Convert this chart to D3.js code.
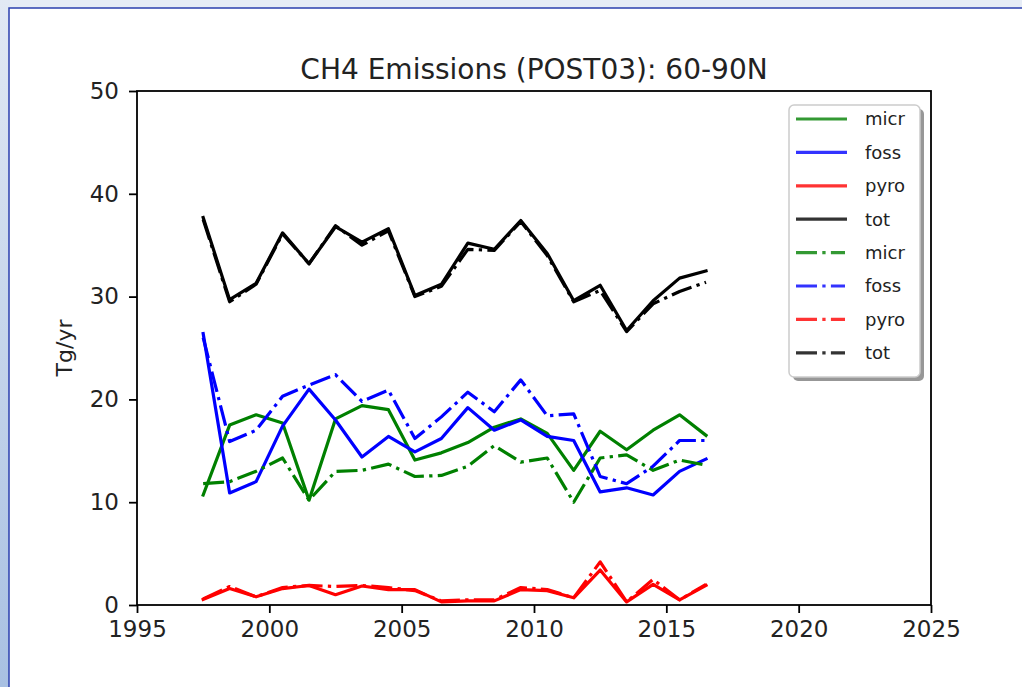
<!DOCTYPE html>
<html>
<head>
<meta charset="utf-8">
<script src="https://cdn.jsdelivr.net/npm/d3@7"></script>
<style>
  html, body { margin: 0; padding: 0; background: #ffffff; }
  svg { display: block; font-family: "DejaVu Sans", sans-serif; }
</style>
</head>
<body>
<svg id="chart" width="1022" height="687"></svg>
<script>
// ---- data ----
const years = [1997.5, 1998.5, 1999.5, 2000.5, 2001.5, 2002.5, 2003.5, 2004.5, 2005.5, 2006.5,
               2007.5, 2008.5, 2009.5, 2010.5, 2011.5, 2012.5, 2013.5, 2014.5, 2015.5, 2016.5];
const micrA = [10.7, 17.5, 18.5, 17.7, 10.2, 18.1, 19.4, 19.0, 14.1, 14.8, 15.8, 17.3, 18.1, 16.7, 13.1, 16.9, 15.1, 17.0, 18.5, 16.5];
const fossA = [26.4, 10.9, 12.0, 17.4, 21.0, 18.0, 14.4, 16.4, 14.9, 16.2, 19.2, 17.0, 18.0, 16.4, 16.0, 11.0, 11.4, 10.7, 13.0, 14.2];
const pyroA = [0.55, 1.6, 0.8, 1.6, 1.9, 1.0, 1.85, 1.5, 1.5, 0.3, 0.4, 0.4, 1.5, 1.4, 0.7, 3.4, 0.3, 2.0, 0.5, 1.9];
const totA  = [37.7, 29.7, 31.3, 36.2, 33.2, 36.8, 35.3, 36.6, 30.1, 31.2, 35.2, 34.6, 37.4, 34.2, 29.6, 31.1, 26.7, 29.6, 31.8, 32.5];
const micrB = [11.8, 12.0, 13.0, 14.3, 10.2, 13.0, 13.1, 13.7, 12.5, 12.6, 13.5, 15.5, 13.9, 14.3, 10.0, 14.3, 14.6, 13.1, 14.1, 13.6];
const fossB = [26.0, 15.9, 17.0, 20.3, 21.4, 22.4, 19.8, 20.9, 16.2, 18.3, 20.7, 18.8, 21.9, 18.4, 18.6, 12.5, 11.8, 13.5, 16.0, 16.0];
const pyroB = [0.6, 1.8, 0.8, 1.7, 1.9, 1.8, 1.9, 1.7, 1.4, 0.4, 0.5, 0.5, 1.7, 1.5, 0.7, 4.2, 0.3, 2.5, 0.5, 2.0];
const totB  = [37.5, 29.5, 31.2, 36.1, 33.2, 36.9, 35.0, 36.4, 30.0, 31.0, 34.6, 34.5, 37.3, 34.0, 29.5, 30.6, 26.6, 29.3, 30.5, 31.4];
const xTicks = [1995, 2000, 2005, 2010, 2015, 2020, 2025];
const yTicks = [0, 10, 20, 30, 40, 50];
const titleText = "CH4 Emissions (POST03): 60-90N";
const yLabel = "Tg/yr";

const DASH = "21,5.3,3.3,5.3";
const series = [
  {name: "micr", values: micrA, color: "#008000", dash: null},
  {name: "foss", values: fossA, color: "#0000ff", dash: null},
  {name: "pyro", values: pyroA, color: "#ff0000", dash: null},
  {name: "tot",  values: totA,  color: "#000000", dash: null},
  {name: "micr", values: micrB, color: "#008000", dash: DASH},
  {name: "foss", values: fossB, color: "#0000ff", dash: DASH},
  {name: "pyro", values: pyroB, color: "#ff0000", dash: DASH},
  {name: "tot",  values: totB,  color: "#000000", dash: DASH}
];

const svg = d3.select("#chart");
const W = 1022, H = 687;

// ---- page frame ----
const defs = svg.append("defs");
const grad = defs.append("linearGradient").attr("id", "leftGrad")
  .attr("x1", 0).attr("y1", 0).attr("x2", 0).attr("y2", 1);
grad.append("stop").attr("offset", "0%").attr("stop-color", "#e2e9f4");
grad.append("stop").attr("offset", "100%").attr("stop-color", "#a8c0e2");
svg.append("rect").attr("x", 0).attr("y", 0).attr("width", W).attr("height", H).attr("fill", "#e6ecf6");
svg.append("rect").attr("x", 0).attr("y", 0).attr("width", 10).attr("height", H).attr("fill", "url(#leftGrad)");
svg.append("rect").attr("x", 9).attr("y", 8).attr("width", W + 10).attr("height", H + 10)
  .attr("fill", "#ffffff").attr("stroke", "#2b3fae").attr("stroke-width", 1.5);

// ---- axes ----
const pL = 137, pR = 931, pT = 91, pB = 605;
const x = d3.scaleLinear().domain([1995, 2025]).range([pL, pR]);
const y = d3.scaleLinear().domain([0, 50]).range([pB, pT]);

const g = svg.append("g");

// lines
const line = d3.line().x((d, i) => x(years[i])).y(d => y(d));
const clip = defs.append("clipPath").attr("id", "plotClip");
clip.append("rect").attr("x", pL).attr("y", pT).attr("width", pR - pL).attr("height", pB - pT);
const plot = g.append("g").attr("clip-path", "url(#plotClip)");
series.forEach(s => {
  plot.append("path")
    .attr("d", line(s.values))
    .attr("fill", "none")
    .attr("stroke", s.color)
    .attr("stroke-width", 3.2)
    .attr("stroke-linejoin", "round")
    .attr("stroke-linecap", s.dash ? "butt" : "square")
    .attr("stroke-dasharray", s.dash);
});

// spines
g.append("rect").attr("x", pL).attr("y", pT).attr("width", pR - pL).attr("height", pB - pT)
  .attr("fill", "none").attr("stroke", "#000").attr("stroke-width", 1.8);

// x axis
const xAxis = d3.axisBottom(x).tickValues(xTicks).tickFormat(d3.format("d")).tickSize(8).tickPadding(8);
const xg = g.append("g").attr("transform", `translate(0,${pB})`).call(xAxis);
xg.select(".domain").remove();
xg.selectAll(".tick line").attr("stroke", "#000").attr("stroke-width", 1.8);
xg.selectAll(".tick text").attr("font-size", 23).attr("fill", "#222").attr("font-family", "DejaVu Sans");

// y axis
const yAxis = d3.axisLeft(y).tickValues(yTicks).tickSize(8).tickPadding(10);
const yg = g.append("g").attr("transform", `translate(${pL},0)`).call(yAxis);
yg.select(".domain").remove();
yg.selectAll(".tick line").attr("stroke", "#000").attr("stroke-width", 1.8);
yg.selectAll(".tick text").attr("font-size", 23).attr("fill", "#222").attr("font-family", "DejaVu Sans");

// title
svg.append("text").attr("x", (pL + pR) / 2).attr("y", 79)
  .attr("text-anchor", "middle").attr("font-size", 28).attr("fill", "#222")
  .text(titleText);

// y label
svg.append("text").attr("transform", `translate(72,${(pT + pB) / 2}) rotate(-90)`)
  .attr("text-anchor", "middle").attr("font-size", 22).attr("fill", "#222")
  .text(yLabel);

// ---- legend ----
const lx = 789, ly = 105, lw = 131, lh = 272;
const lg = svg.append("g");
lg.append("rect").attr("x", lx + 4).attr("y", ly + 4).attr("width", lw).attr("height", lh)
  .attr("rx", 5).attr("fill", "#8c8c8c").attr("opacity", 0.9);
lg.append("rect").attr("x", lx).attr("y", ly).attr("width", lw).attr("height", lh)
  .attr("rx", 5).attr("fill", "#ffffff").attr("stroke", "#cccccc").attr("stroke-width", 1.5);
series.forEach((s, i) => {
  const yy = 119 + i * 33.4;
  lg.append("line").attr("x1", 796).attr("x2", s.dash ? 845 : 847).attr("y1", yy).attr("y2", yy)
    .attr("stroke", s.color).attr("stroke-width", 3.2).attr("stroke-opacity", 0.8)
    .attr("stroke-dasharray", s.dash);
  lg.append("text").attr("x", 865).attr("y", yy).attr("dy", "0.35em")
    .attr("font-size", 18).attr("fill", "#222").text(s.name);
});
</script>
</body>
</html>
